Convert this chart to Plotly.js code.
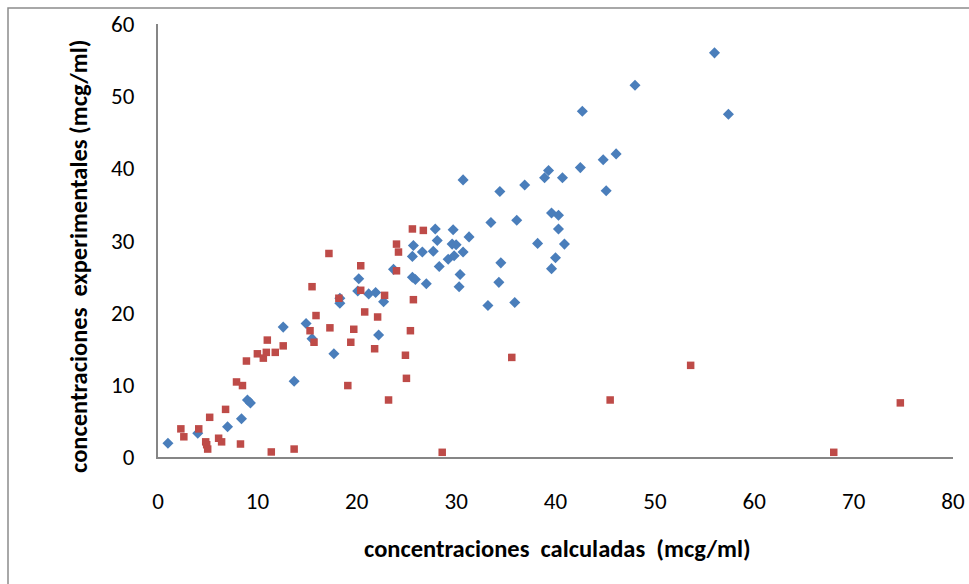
<!DOCTYPE html>
<html>
<head>
<meta charset="utf-8">
<script src="https://cdn.plot.ly/plotly-3.0.1.min.js"></script>
<style>
  html, body { margin: 0; padding: 0; background: #ffffff; }
  #chart { width: 969px; height: 584px; }
</style>
</head>
<body>
<div id="chart"></div>
<script>
// Series 1 (blue diamonds)
const blueX = [1.0, 4.0, 7.0, 8.4, 9.0, 9.3, 13.7, 12.6, 14.9, 15.5, 17.7, 18.3, 18.3,
  20.2, 20.1, 21.2, 21.9, 22.7, 22.2, 23.7, 25.7, 25.6, 26.6, 25.6, 25.9, 27.0, 27.9, 28.1,
  27.7, 28.3, 29.7, 29.6, 30.0, 29.2, 29.8, 30.7, 31.3, 30.4, 30.3, 30.7, 33.2, 33.5, 34.4,
  34.5, 34.3, 35.9, 36.1, 36.9, 38.2, 38.9, 39.3, 40.7, 39.6, 40.3, 40.3, 40.9, 40.0, 39.6,
  42.5, 56.0, 48.0, 42.7, 57.4, 46.1, 44.8, 45.1];
const blueY = [1.9, 3.3, 4.2, 5.3, 7.9, 7.5, 10.5, 18.0, 18.5, 16.4, 14.3, 22.0, 21.3,
  24.7, 23.0, 22.6, 22.8, 21.5, 16.9, 26.0, 29.3, 27.8, 28.4, 24.9, 24.6, 24.0, 31.6, 30.0,
  28.5, 26.4, 31.5, 29.5, 29.4, 27.4, 27.9, 28.4, 30.5, 25.3, 23.6, 38.4, 21.0, 32.5, 36.8,
  26.9, 24.2, 21.4, 32.8, 37.7, 29.6, 38.7, 39.7, 38.7, 33.8, 33.5, 31.6, 29.5, 27.6, 26.1,
  40.1, 56.0, 51.5, 47.9, 47.5, 42.0, 41.2, 36.9];

// Series 2 (red squares)
const redX = [2.3, 2.6, 4.1, 4.8, 4.9, 5.0, 5.2, 6.1, 6.4, 6.8, 7.9, 8.5, 8.3, 8.9, 10.0,
  10.6, 10.9, 11.0, 11.8, 12.6, 11.4, 13.7, 15.5, 15.9, 15.3, 15.7, 17.2, 17.3, 18.2, 19.4,
  19.1, 20.4, 20.4, 20.8, 22.1, 19.7, 21.8, 22.8, 23.2, 25.6, 26.7, 24.0, 24.2, 24.0, 25.7,
  25.4, 24.9, 25.0, 28.6, 35.6, 45.5, 53.6, 68.0, 74.7];
const redY = [3.9, 2.8, 3.9, 2.1, 1.7, 1.1, 5.5, 2.6, 2.1, 6.6, 10.4, 9.9, 1.8, 13.3, 14.3,
  13.7, 14.5, 16.2, 14.5, 15.4, 0.7, 1.1, 23.6, 19.6, 17.5, 15.9, 28.2, 17.9, 22.0, 15.9,
  9.9, 26.5, 23.1, 20.1, 19.4, 17.7, 15.0, 22.4, 7.9, 31.6, 31.4, 29.5, 28.4, 25.8, 21.8,
  17.5, 14.1, 10.9, 0.65, 13.8, 7.9, 12.7, 0.65, 7.5];

// Axis ticks and titles
const xTicks = [0, 10, 20, 30, 40, 50, 60, 70, 80];
const yTicks = [0, 10, 20, 30, 40, 50, 60];
const xTitle = "concentraciones\u00a0 calculadas\u00a0 (mcg/ml)";
const yTitle = "concentraciones\u00a0 experimentales (mcg/ml)";

const tickFont = { family: "Carlito, 'Liberation Sans', Arial, sans-serif", size: 23, color: "#000000" };
const titleFont = { family: "Carlito, 'Liberation Sans Narrow', 'Liberation Sans', Arial, sans-serif", size: 24.5, color: "#000000", weight: "bold" };

const traces = [
  {
    x: blueX, y: blueY, type: "scatter", mode: "markers", name: "Serie 1",
    marker: { symbol: "diamond", size: 8.5, color: "#4A7EBB", line: { width: 0 } },
    cliponaxis: false
  },
  {
    x: redX, y: redY, type: "scatter", mode: "markers", name: "Serie 2",
    marker: { symbol: "square", size: 7.5, color: "#BE4B48", line: { width: 0 } },
    cliponaxis: false
  }
];

const layout = {
  width: 969, height: 584,
  margin: { l: 158, r: 16, t: 24, b: 127 },
  paper_bgcolor: "#ffffff", plot_bgcolor: "#ffffff",
  showlegend: false,
  font: tickFont,
  xaxis: {
    range: [0, 80], tickvals: xTicks, ticktext: xTicks.map(String),
    showgrid: false, zeroline: false,
    showline: true, linecolor: "#868686", linewidth: 2,
    ticks: "outside", ticklen: 22, tickcolor: "rgba(0,0,0,0)",
    tickfont: tickFont, fixedrange: true
  },
  yaxis: {
    range: [0, 60], tickvals: yTicks, ticktext: yTicks.map(String),
    showgrid: false, zeroline: false,
    showline: true, linecolor: "#868686", linewidth: 2,
    ticks: "outside", ticklen: 17, tickcolor: "rgba(0,0,0,0)",
    tickfont: tickFont, fixedrange: true
  },
  annotations: [
    { text: xTitle, xref: "paper", yref: "paper", x: (557 - 158) / 795, y: (457 - 549) / 433,
      xanchor: "center", yanchor: "middle", showarrow: false, font: titleFont },
    { text: yTitle, xref: "paper", yref: "paper", x: (79 - 158) / 795, y: (457 - 257) / 433,
      xanchor: "center", yanchor: "middle", showarrow: false, textangle: -90, font: titleFont }
  ],
  shapes: [
    { type: "rect", xref: "paper", yref: "paper",
      x0: (8 - 158) / 795, x1: (990 - 158) / 795,
      y0: (457 - 620) / 433, y1: (457 - 8) / 433,
      line: { color: "#8C8C8C", width: 1.5 }, fillcolor: "rgba(0,0,0,0)", layer: "below" }
  ]
};

Plotly.newPlot("chart", traces, layout, { displayModeBar: false, staticPlot: true });
</script>
</body>
</html>
